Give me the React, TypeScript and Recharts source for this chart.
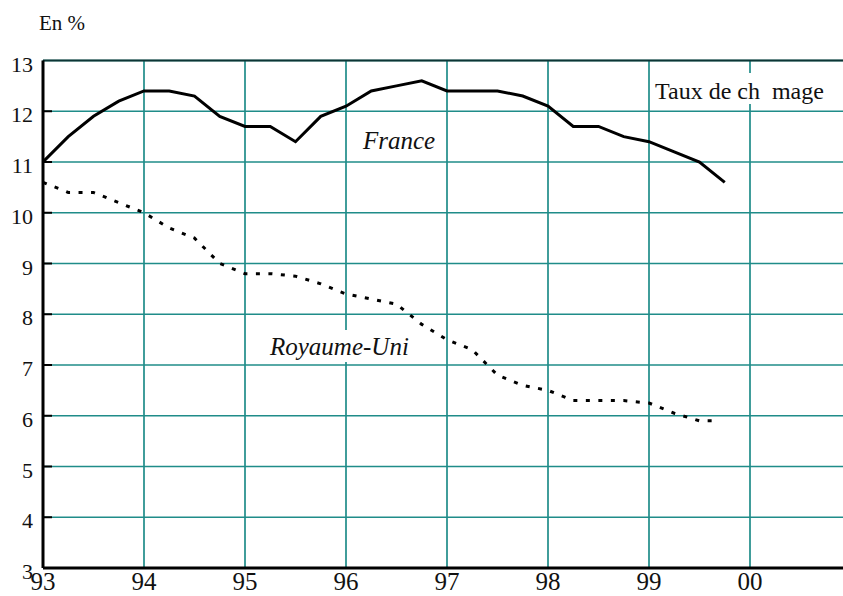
import { LineChart, Line, XAxis, YAxis, CartesianGrid, ReferenceLine } from 'recharts';

// quarterly, from 1993 Q1
const quarters = [
  93, 93.25, 93.5, 93.75, 94, 94.25, 94.5, 94.75, 95, 95.25, 95.5, 95.75, 96, 96.25,
  96.5, 96.75, 97, 97.25, 97.5, 97.75, 98, 98.25, 98.5, 98.75, 99, 99.25, 99.5, 99.75,
];
const franceRate = [
  11.0, 11.5, 11.9, 12.2, 12.4, 12.4, 12.3, 11.9, 11.7, 11.7, 11.4, 11.9, 12.1, 12.4,
  12.5, 12.6, 12.4, 12.4, 12.4, 12.3, 12.1, 11.7, 11.7, 11.5, 11.4, 11.2, 11.0, 10.6,
];

const ukPeriods = [
  93, 93.25, 93.5, 93.75, 94, 94.25, 94.5, 94.75, 95, 95.25, 95.5, 95.75, 96, 96.25,
  96.5, 96.75, 97, 97.25, 97.5, 97.75, 98, 98.25, 98.5, 98.75, 99, 99.25, 99.5, 99.67,
];
const ukRate = [
  10.6, 10.4, 10.4, 10.2, 10.0, 9.7, 9.5, 9.0, 8.8, 8.8, 8.75, 8.6, 8.4, 8.3,
  8.2, 7.8, 7.5, 7.3, 6.8, 6.6, 6.5, 6.3, 6.3, 6.3, 6.25, 6.05, 5.9, 5.9,
];

const yearTicks = [93, 94, 95, 96, 97, 98, 99, 100];
const yearLabels = ['93', '94', '95', '96', '97', '98', '99', '00'];
const rateTicks = [3, 4, 5, 6, 7, 8, 9, 10, 11, 12, 13];

const franceData = quarters.map((x, i) => ({ x, v: franceRate[i] }));
const ukData = ukPeriods.map((x, i) => ({ x, v: ukRate[i] }));

const GRID = '#1f8c89';
const serif = { fontFamily: "'Liberation Serif', 'Times New Roman', Times, serif" };

const YTick = (props: any) => {
  const { x, y, payload } = props;
  const v = payload.value;
  return (
    <g>
      {v > 3 && v < 13 && <line x1={x} x2={x + 9} y1={y} y2={y} stroke="#000" strokeWidth={2} />}
      <text x={x - 10} y={y + 11} textAnchor="end" fontSize={22} style={serif} fill="#111">
        {v}
      </text>
    </g>
  );
};

const XTick = (props: any) => {
  const { x, y, payload } = props;
  const i = yearTicks.indexOf(payload.value);
  return (
    <text x={x} y={y + 22} textAnchor="middle" fontSize={25} style={serif} fill="#111">
      {yearLabels[i]}
    </text>
  );
};

export default function App() {
  return (
    <div
      style={{
        position: 'absolute',
        left: 0,
        top: 0,
        width: 843,
        height: 596,
        overflow: 'hidden',
        background: '#fff',
        ...serif,
      }}
    >
      <LineChart width={851} height={596} margin={{ top: 60.5, right: 0, bottom: 0, left: 0 }}>
        <CartesianGrid stroke={GRID} strokeWidth={1.7} />
        <XAxis
          type="number"
          dataKey="x"
          domain={[93, 101]}
          ticks={yearTicks}
          allowDataOverflow
          height={28}
          tickSize={0}
          tickMargin={0}
          tickLine={false}
          tick={<XTick />}
          axisLine={{ stroke: '#000', strokeWidth: 3 }}
        />
        <YAxis
          type="number"
          domain={[3, 13]}
          ticks={rateTicks}
          width={43}
          tickSize={0}
          tickMargin={0}
          tickLine={false}
          tick={<YTick />}
          axisLine={{ stroke: '#000', strokeWidth: 3 }}
        />
        <ReferenceLine y={13} stroke="#0c3535" strokeWidth={2} />
        <Line
          data={franceData}
          dataKey="v"
          type="linear"
          stroke="#000"
          strokeWidth={3}
          dot={false}
          isAnimationActive={false}
        />
        <Line
          data={ukData}
          dataKey="v"
          type="linear"
          stroke="#000"
          strokeWidth={3}
          strokeDasharray="4 8.5"
          dot={false}
          isAnimationActive={false}
        />
      </LineChart>
      <svg
        width={843}
        height={596}
        style={{ position: 'absolute', left: 0, top: 0, pointerEvents: 'none', ...serif }}
      >
        <text x={39} y={29.5} fontSize={21} style={serif} fill="#111">
          En %
        </text>
        <rect x={358} y={128} width={82} height={27} fill="#fff" />
        <text x={363} y={149} fontSize={25} fontStyle="italic" style={serif} fill="#111">
          France
        </text>
        <rect x={266} y={330} width={148} height={32} fill="#fff" />
        <text x={270} y={355} fontSize={25} fontStyle="italic" style={serif} fill="#111">
          Royaume-Uni
        </text>
        <rect x={652} y={73} width={174} height={31} fill="#fff" />
        <text x={655} y={99} fontSize={24} style={serif} fill="#111">
          {'Taux de ch\u00A0\u00A0mage'}
        </text>
      </svg>
    </div>
  );
}
